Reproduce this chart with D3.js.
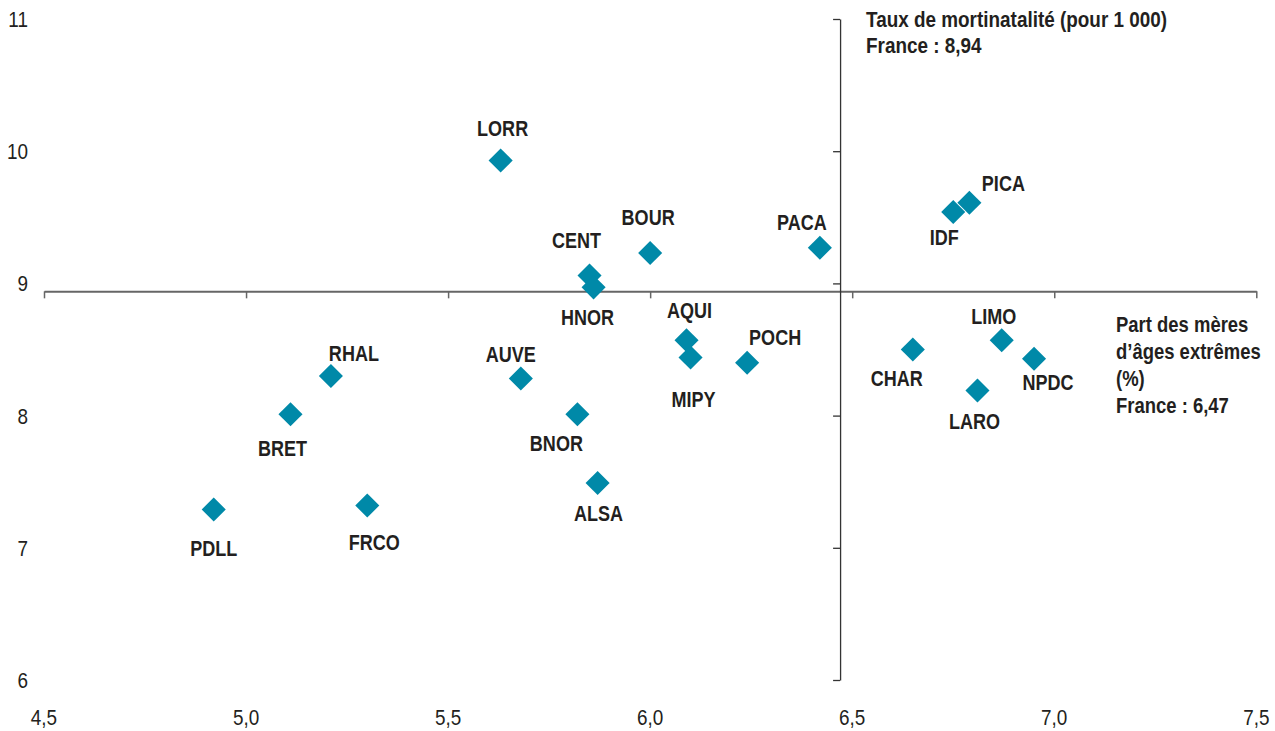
<!DOCTYPE html>
<html>
<head>
<meta charset="utf-8">
<script src="https://cdn.jsdelivr.net/npm/d3@7"></script>
<style>
  body { margin: 0; background: #fff; }
  svg text { font-family: "Liberation Sans", Arial, sans-serif; fill: #231f20; }
  .lbl { font-weight: bold; font-size: 22px; }
  .tick-lbl { font-size: 22px; }
  .note { font-weight: bold; font-size: 22px; }
</style>
</head>
<body>
<script>
// regions, share of mothers at extreme ages (%), stillbirth rate (per 1 000)
var regions = ["LORR","BOUR","PACA","CENT","HNOR","PICA","IDF","AQUI","MIPY","POCH",
               "AUVE","BNOR","ALSA","RHAL","BRET","PDLL","FRCO","CHAR","LIMO","NPDC","LARO"];
var partMeres = [5.63, 6.00, 6.42, 5.85, 5.86, 6.79, 6.75, 6.09, 6.10, 6.24,
                 5.68, 5.82, 5.87, 5.21, 5.11, 4.92, 5.30, 6.65, 6.87, 6.95, 6.81];
var mortinatalite = [9.93, 9.23, 9.27, 9.06, 8.97, 9.61, 9.54, 8.57, 8.44, 8.40,
                     8.28, 8.01, 7.49, 8.30, 8.01, 7.29, 7.32, 8.50, 8.57, 8.43, 8.19];

var franceX = 6.47;   // France : part des mères d'âges extrêmes
var franceY = 8.94;   // France : taux de mortinatalité

var xTicks = [4.5, 5.0, 5.5, 6.0, 6.5, 7.0, 7.5];
var yTicks = [6, 7, 8, 9, 10, 11];

var yTitle = ["Taux de mortinatalité (pour 1 000)", "France : 8,94"];
var xTitle = ["Part des mères", "d\u2019âges extrêmes", "(%)", "France : 6,47"];

// where each label sits relative to its diamond (dx, baseline dy)
var labelPos = {
  LORR:[2,-24], BOUR:[-2,-28], PACA:[-18,-18], CENT:[-13,-27], HNOR:[-6,38],
  PICA:[34,-12], IDF:[-9,33], AQUI:[3,-22], MIPY:[3,50], POCH:[28,-18],
  AUVE:[-10,-17], BNOR:[-21,37], ALSA:[1,38], RHAL:[23,-15], BRET:[-8,42],
  PDLL:[0,47], FRCO:[7,45], CHAR:[-16,37], LIMO:[-8,-16], NPDC:[14,31], LARO:[-3,39]
};

var W = 1275, H = 731;
var SX = 0.82;   // no narrow font installed, so squeeze the text horizontally
var fr = d3.formatLocale({decimal: ",", thousands: "\u00a0", grouping: [3], currency: ["", "€"]});
var fx = fr.format(".1f");

var svg = d3.select("body").append("svg")
  .attr("width", W).attr("height", H);

var x = d3.scaleLinear().domain([4.5, 7.5]).range([44, 1256.3]);
var y = d3.scaleLinear().domain([6, 11]).range([680, 19]);

// horizontal axis crossing at the France value
var gx = svg.append("g")
  .attr("transform", "translate(0," + y(franceY) + ")")
  .call(d3.axisBottom(x).tickValues(xTicks).tickSize(7).tickSizeOuter(0).tickFormat(""));
gx.select(".domain").attr("stroke", "#666").attr("stroke-width", 2);
gx.selectAll(".tick line").attr("stroke", "#666").attr("stroke-width", 1.5);

// vertical axis crossing at the France value
var gy = svg.append("g")
  .attr("transform", "translate(" + x(franceX) + ",0)")
  .call(d3.axisLeft(y).tickValues(yTicks).tickSize(7).tickSizeOuter(0).tickFormat(""));
gy.select(".domain").attr("stroke", "#333").attr("stroke-width", 1.3);
gy.selectAll(".tick line").attr("stroke", "#333").attr("stroke-width", 1.3);

// every text group is drawn in a horizontally squeezed space
function squeezed(sx) {
  return svg.append("g").attr("transform", "scale(" + sx + ",1)");
}

// tick labels along the edges
var tickSX = 0.86;
squeezed(tickSX).selectAll("text")
  .data(xTicks).enter().append("text")
  .attr("class", "tick-lbl")
  .attr("x", function(d) { return x(d) / tickSX; })
  .attr("y", 725)
  .attr("text-anchor", "middle")
  .text(function(d) { return fx(d); });

squeezed(tickSX).selectAll("text")
  .data(yTicks).enter().append("text")
  .attr("class", "tick-lbl")
  .attr("x", 28 / tickSX)
  .attr("y", function(d) { return y(d); })
  .attr("dy", "0.36em")
  .attr("text-anchor", "end")
  .text(function(d) { return d; });

// axis notes
var noteSX = 0.86;
squeezed(noteSX).selectAll("text")
  .data(yTitle).enter().append("text")
  .attr("class", "note")
  .attr("x", 866 / noteSX)
  .attr("y", function(d, i) { return 27 + i * 26; })
  .text(function(d) { return d; });

squeezed(0.84).selectAll("text")
  .data(xTitle).enter().append("text")
  .attr("class", "note")
  .attr("x", 1116 / 0.84)
  .attr("y", function(d, i) { return 332 + i * 27; })
  .text(function(d) { return d; });

var points = regions.map(function(r, i) {
  return {code: r, px: partMeres[i], py: mortinatalite[i]};
});

// diamonds
var diamond = d3.symbol().type(d3.symbolSquare).size(290);
svg.append("g").selectAll("path")
  .data(points).enter().append("path")
  .attr("d", diamond)
  .attr("fill", "#0089a8")
  .attr("transform", function(d) {
    return "translate(" + x(d.px) + "," + y(d.py) + ") rotate(45)";
  });

// labels
squeezed(SX).selectAll("text")
  .data(points).enter().append("text")
  .attr("class", "lbl")
  .attr("x", function(d) { return (x(d.px) + labelPos[d.code][0]) / SX; })
  .attr("y", function(d) { return y(d.py) + labelPos[d.code][1]; })
  .attr("text-anchor", "middle")
  .text(function(d) { return d.code; });
</script>
</body>
</html>
